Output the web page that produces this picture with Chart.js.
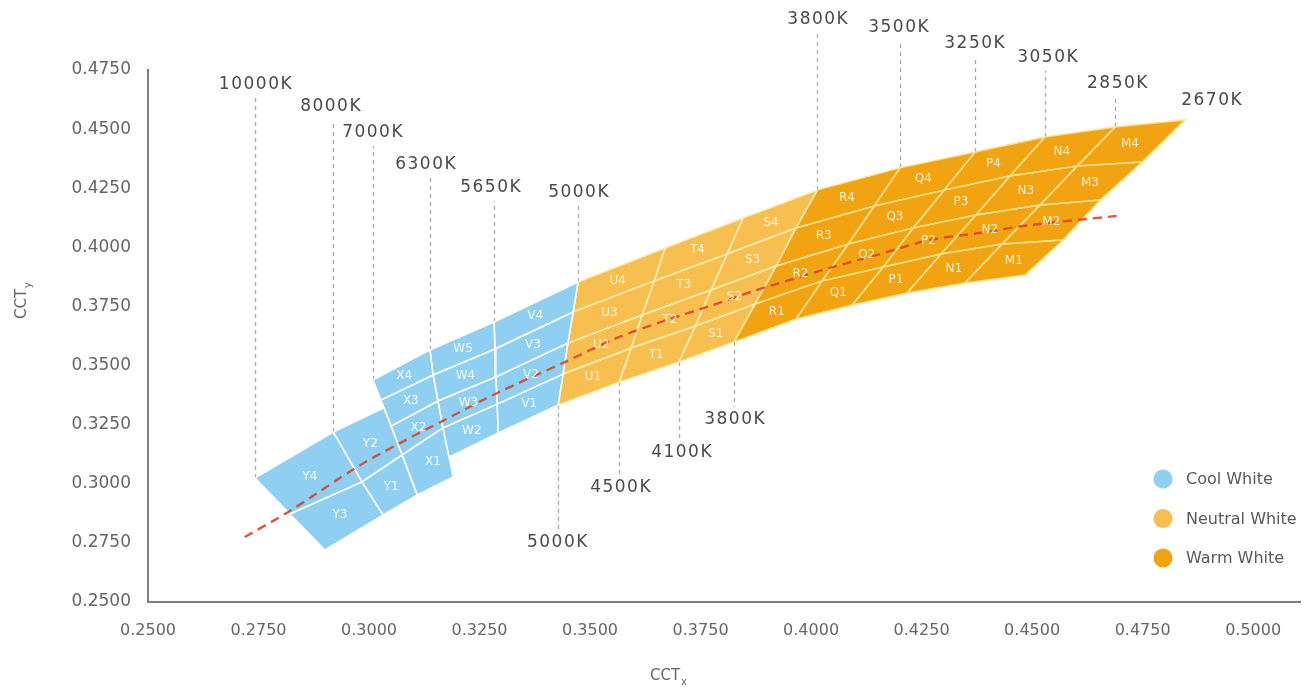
<!DOCTYPE html>
<html>
<head>
<meta charset="utf-8">
<script src="https://cdn.jsdelivr.net/npm/chart.js@4.4.0/dist/chart.umd.min.js"></script>
<style>
html,body{margin:0;padding:0;background:#fff;}
#wrap{width:1307px;height:689px;position:relative;}
</style>
</head>
<body>
<div id="wrap"><canvas id="c" width="1307" height="689"></canvas></div>
<script>
// ---------- tick labels ----------
const xTicks = [0.25,0.275,0.30,0.325,0.35,0.375,0.40,0.425,0.45,0.475,0.50];
const yTicks = [0.25,0.275,0.30,0.325,0.35,0.375,0.40,0.425,0.45,0.475];

// ---------- bin boundary lines (CIE x, y), top -> bottom ----------
const iso10000   = [[0.2742,0.3024],[0.2821,0.2872],[0.2900,0.2720]];
const iso8000    = [[0.2919,0.3219],[0.2984,0.3008],[0.3032,0.2868]];
const yRightEdge = [[0.3034,0.3321],[0.3075,0.3122],[0.3109,0.2953]];
const iso7000    = [[0.3009,0.3439],[0.3027,0.3354],[0.3050,0.3244],[0.3075,0.3122],[0.3109,0.2953]];
const iso6300    = [[0.3138,0.3566],[0.3145,0.3460],[0.3156,0.3350],[0.3167,0.3236],[0.3181,0.3113],[0.3190,0.3029]];
const iso5650    = [[0.3283,0.3684],[0.3285,0.3570],[0.3287,0.3452],[0.3290,0.3337],[0.3292,0.3215]];
const iso5000    = [[0.3473,0.3853],[0.3462,0.3727],[0.3450,0.3595],[0.3439,0.3464],[0.3428,0.3333]];
const iso4500    = [[0.3670,0.3997],[0.3645,0.3858],[0.3618,0.3714],[0.3593,0.3574],[0.3566,0.3430]];
const iso4100    = [[0.3846,0.4124],[0.3810,0.3972],[0.3774,0.3820],[0.3738,0.3667],[0.3701,0.3515]];
const iso3800    = [[0.4014,0.4242],[0.3966,0.4082],[0.3921,0.3921],[0.3873,0.3760],[0.3826,0.3600]];
const iso3500    = [[0.4201,0.4336],[0.4143,0.4175],[0.4084,0.4014],[0.4025,0.3858],[0.3966,0.3697]];
const iso3250    = [[0.4371,0.4403],[0.4301,0.4242],[0.4231,0.4082],[0.4163,0.3917],[0.4093,0.3756]];
const iso3050    = [[0.4529,0.4467],[0.4450,0.4302],[0.4373,0.4137],[0.4294,0.3972],[0.4217,0.3807]];
const iso2850    = [[0.4688,0.4509],[0.4602,0.4344],[0.4518,0.4179],[0.4432,0.4014],[0.4348,0.3849]];
const iso2670    = [[0.4846,0.4539],[0.4749,0.4361],[0.4654,0.4200],[0.4570,0.4031],[0.4484,0.3883]];

// ---------- black body locus ----------
const locusX = [0.2719,0.2821,0.2973,0.3070,0.3167,0.3290,0.3439,0.3561,0.3674,0.3765,0.3878,0.3952,0.4050,0.4140,0.4269,0.4382,0.4495,0.4692];
const locusY = [0.2775,0.2885,0.3071,0.3172,0.3266,0.3384,0.3511,0.3617,0.3693,0.3748,0.3820,0.3862,0.3917,0.3963,0.4031,0.4061,0.4094,0.4133];

// ---------- CCT annotations ----------
const cctLabels  = ['10000K','8000K','7000K','6300K','5650K','5000K','3800K','3500K','3250K','3050K','2850K','2670K','5000K','4500K','4100K','3800K'];
const cctLabelX  = [0.2742,0.2912,0.3007,0.3127,0.3274,0.3473,0.4014,0.4197,0.4369,0.4534,0.4692,0.4905,0.3425,0.3568,0.3706,0.3826];
const cctLabelY  = [0.4687,0.4594,0.4484,0.4352,0.4251,0.4230,0.4962,0.4928,0.4860,0.4801,0.4691,0.4619,0.2750,0.2986,0.3134,0.3270];
const cctAnchors = [iso10000[0],iso8000[0],iso7000[0],iso6300[0],iso5650[0],iso5000[0],iso3800[0],iso3500[0],iso3250[0],iso3050[0],iso2850[0],null,iso5000[4],iso4500[4],iso4100[4],iso3800[4]];

// ---------- groups ----------
const groupNames = ['Cool White','Neutral White','Warm White'];
const groupFill  = ['#8ecff2','#f7bf50','#f2a312'];
const groupEdge  = ['rgba(255,255,255,0.92)','rgba(255,236,178,0.95)','rgba(255,224,140,0.95)'];
const groupText  = ['rgba(255,255,255,0.9)','rgba(255,247,225,0.9)','rgba(255,247,225,0.92)'];

// ---------- build cells ----------
const cells = [];
function addColumn(letter, left, right, nums, g){
  for (let k = 0; k < 4; k++) cells.push({name: letter + nums[k], pts:[left[k], right[k], right[k+1], left[k+1]], g});
}
addColumn('V', iso5650, iso5000, [4,3,2,1], 0);
addColumn('W', iso6300, iso5650, [5,4,3,2], 0);
for (let k = 0; k < 3; k++) cells.push({name:'X' + (4-k), pts:[iso7000[k], iso6300[k], iso6300[k+1], iso7000[k+1]], g:0});
cells.push({name:'X1', pts:[iso7000[3], iso6300[3], iso6300[4], iso6300[5], iso7000[4]], g:0});
cells.push({name:'Y4', pts:[iso10000[0], iso8000[0], iso8000[1], iso10000[1]], g:0});
cells.push({name:'Y3', pts:[iso10000[1], iso8000[1], iso8000[2], iso10000[2]], g:0});
cells.push({name:'Y2', pts:[iso8000[0], yRightEdge[0], yRightEdge[1], iso8000[1]], g:0});
cells.push({name:'Y1', pts:[iso8000[1], yRightEdge[1], yRightEdge[2], iso8000[2]], g:0});
addColumn('U', iso5000, iso4500, [4,3,2,1], 1);
addColumn('T', iso4500, iso4100, [4,3,2,1], 1);
addColumn('S', iso4100, iso3800, [4,3,2,1], 1);
addColumn('R', iso3800, iso3500, [4,3,2,1], 2);
addColumn('Q', iso3500, iso3250, [4,3,2,1], 2);
addColumn('P', iso3250, iso3050, [4,3,2,1], 2);
addColumn('N', iso3050, iso2850, [4,3,2,1], 2);
addColumn('M', iso2850, iso2670, [4,3,2,1], 2);

const toXY = pts => pts.map(p => ({x:p[0], y:p[1]}));
const datasets = [];
datasets.push({
  label:'locus', data: locusX.map((x,i)=>({x, y:locusY[i]})),
  borderColor:'rgba(220,66,45,0.9)', borderDash:[9,6], borderWidth:2.4,
  pointRadius:0, fill:false, tension:0.3, order:1
});
cells.forEach(c => {
  const closed = toXY([...c.pts, c.pts[0]]);
  datasets.push({label:c.name, data:closed, fill:'shape', backgroundColor:groupFill[c.g],
    borderColor:'rgba(0,0,0,0)', borderWidth:1, pointRadius:0, tension:0, order:3});
  datasets.push({label:c.name+'-edge', data:closed, fill:false,
    borderColor:groupEdge[c.g], borderWidth:1.5, pointRadius:0, tension:0, order:2});
});

const FONT = 'DejaVu Sans';
const decor = {
  id:'decor',
  beforeDatasetsDraw(chart){
    const {ctx, scales:{x, y}} = chart;
    ctx.save();
    ctx.strokeStyle = '#aaaaaa'; ctx.lineWidth = 1.3; ctx.setLineDash([4,4]);
    cctLabels.forEach((t,i) => {
      const a = cctAnchors[i]; if (!a) return;
      const ax = Math.round(x.getPixelForValue(a[0])) + 0.5, ay = y.getPixelForValue(a[1]);
      const ly = y.getPixelForValue(cctLabelY[i]);
      const end = ly < ay ? ly + 13 : ly - 13;
      ctx.beginPath(); ctx.moveTo(ax, ay); ctx.lineTo(ax, end); ctx.stroke();
    });
    ctx.restore();
  },
  afterDatasetsDraw(chart){
    const {ctx, scales:{x, y}} = chart;
    ctx.save();
    // cell labels
    ctx.font = '12px "' + FONT + '"';
    ctx.textAlign = 'center'; ctx.textBaseline = 'middle';
    cells.forEach(c => {
      let sx = 0, sy = 0;
      c.pts.forEach(p => { sx += x.getPixelForValue(p[0]); sy += y.getPixelForValue(p[1]); });
      ctx.fillStyle = groupText[c.g];
      ctx.fillText(c.name, sx / c.pts.length, sy / c.pts.length);
    });
    // CCT labels
    ctx.font = '17px "' + FONT + '"';
    try { ctx.letterSpacing = '1.5px'; } catch(e) {}
    ctx.fillStyle = '#4a4a4a';
    cctLabels.forEach((t,i) => {
      ctx.fillText(t, x.getPixelForValue(cctLabelX[i]) + 1, y.getPixelForValue(cctLabelY[i]));
    });
    try { ctx.letterSpacing = '0px'; } catch(e) {}
    // legend
    ctx.font = '16px "' + FONT + '"';
    ctx.textAlign = 'left';
    groupNames.forEach((n,i) => {
      const cy = 479 + i * 39.5;
      ctx.fillStyle = groupFill[i];
      ctx.beginPath(); ctx.arc(1163, cy, 9.5, 0, Math.PI*2); ctx.fill();
      ctx.fillStyle = '#5a5a5a';
      ctx.fillText(n, 1186, cy + 1);
    });
    // axis titles
    const drawTitle = (sub, cx, cy, rot) => {
      ctx.save();
      ctx.translate(cx, cy); ctx.rotate(rot);
      ctx.fillStyle = '#666';
      ctx.font = '15px "' + FONT + '"';
      const w = ctx.measureText('CCT').width;
      ctx.textAlign = 'left'; ctx.textBaseline = 'middle';
      ctx.fillText('CCT', -w/2 - 3, 0);
      ctx.font = '10px "' + FONT + '"';
      ctx.fillText(sub, w/2 - 2, 6);
      ctx.restore();
    };
    drawTitle('y', 22, 301, -Math.PI/2);
    drawTitle('x', 668, 676, 0);
    ctx.restore();
  }
};

new Chart(document.getElementById('c'), {
  type:'line',
  data:{datasets},
  options:{
    responsive:false, animation:false, devicePixelRatio:1,
    layout:{padding:{top:70, right:7, left:0, bottom:0}},
    plugins:{legend:{display:false}, tooltip:{enabled:false}},
    scales:{
      x:{
        type:'linear', min:0.25, max:0.5106,
        afterBuildTicks: s => { s.ticks = xTicks.map(v => ({value:v})); },
        afterFit: s => { s.height = 87; s.paddingLeft = 0; s.paddingRight = 0; },
        grid:{display:false, drawTicks:false},
        border:{display:true, color:'#7d7d7d', width:2},
        ticks:{padding:19, color:'#666', font:{family:FONT, size:16}, autoSkip:false, maxRotation:0,
               callback: v => Number(v).toFixed(4)}
      },
      y:{
        type:'linear', min:0.25, max:0.475,
        afterBuildTicks: s => { s.ticks = yTicks.map(v => ({value:v})); },
        afterFit: s => { s.width = 148; s.paddingTop = 0; s.paddingBottom = 0; },
        grid:{display:false, drawTicks:false},
        border:{display:true, color:'#7d7d7d', width:2},
        ticks:{padding:17, color:'#666', font:{family:FONT, size:17}, autoSkip:false,
               callback: v => Number(v).toFixed(4)}
      }
    }
  },
  plugins:[decor]
});
</script>
</body>
</html>
